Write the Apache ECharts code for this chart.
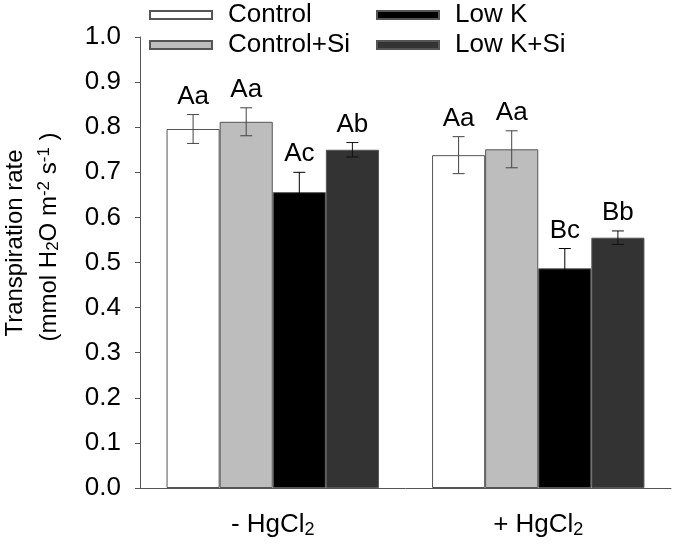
<!DOCTYPE html>
<html>
<head>
<meta charset="utf-8">
<script src="https://cdn.jsdelivr.net/npm/echarts@6/dist/echarts.min.js"></script>
<style>
html,body{margin:0;padding:0;background:#fff;}
#chart{width:675px;height:544px;}
</style>
</head>
<body>
<div id="chart"></div>
<script>
// ---- data ----
const categories = ['- HgCl', '+ HgCl'];
const seriesNames = ['Control', 'Control+Si', 'Low K', 'Low K+Si'];
const controlVals = [0.796, 0.738];
const controlSiVals = [0.812, 0.751];
const lowKVals = [0.656, 0.487];
const lowKSiVals = [0.750, 0.555];
const controlErr = [0.032, 0.041];
const controlSiErr = [0.031, 0.041];
const lowKErr = [0.044, 0.044];
const lowKSiErr = [0.016, 0.015];
const controlLetters = ['Aa', 'Aa'];
const controlSiLetters = ['Aa', 'Aa'];
const lowKLetters = ['Ac', 'Bc'];
const lowKSiLetters = ['Ab', 'Bb'];
const yTicks = [0, 0.1, 0.2, 0.3, 0.4, 0.5, 0.6, 0.7, 0.8, 0.9, 1.0];

const values = [controlVals, controlSiVals, lowKVals, lowKSiVals];
const errors = [controlErr, controlSiErr, lowKErr, lowKSiErr];
const letters = [controlLetters, controlSiLetters, lowKLetters, lowKSiLetters];

const FONT = '"Liberation Sans", Arial, Helvetica, sans-serif';
const fills = ['#ffffff', '#bdbdbd', '#000000', '#333333'];
const errColors = ['#444444', '#444444', '#000000', '#111111'];
const N = seriesNames.length;
const CAT_GAP = 0.2;

const chart = echarts.init(document.getElementById('chart'));

function makeErrRender(si) {
  return function (params, api) {
    const ci = api.value(0);
    const v = api.value(1);
    const e = api.value(2);
    const band = api.size([1, 0])[0];
    const barW = band * (1 - CAT_GAP) / N;
    const cx = api.coord([ci, 0])[0] + (si - (N - 1) / 2) * barW;
    const yTop = api.coord([ci, v + e])[1];
    const yBot = api.coord([ci, v - e])[1];
    const cap = 6;
    const st = { stroke: errColors[si], lineWidth: 1 };
    return {
      type: 'group',
      children: [
        { type: 'line', shape: { x1: cx, y1: yTop, x2: cx, y2: yBot }, style: st },
        { type: 'line', shape: { x1: cx - cap, y1: yTop, x2: cx + cap, y2: yTop }, style: st },
        { type: 'line', shape: { x1: cx - cap, y1: yBot, x2: cx + cap, y2: yBot }, style: st },
        { type: 'text', x: cx, y: yTop - 5, style: {
            text: letters[si][params.dataIndex], fill: '#000',
            font: '26px ' + FONT, align: 'center', verticalAlign: 'bottom' } }
      ]
    };
  };
}

const series = [];
for (let s = 0; s < N; s++) {
  series.push({
    name: seriesNames[s],
    type: 'bar',
    data: values[s],
    barGap: '0%',
    barCategoryGap: (CAT_GAP * 100) + '%',
    itemStyle: { color: fills[s], borderColor: '#555555', borderWidth: 1 },
    emphasis: { disabled: true },
    z: 2
  });
}
for (let s = 0; s < N; s++) {
  series.push({
    type: 'custom',
    name: seriesNames[s] + ' err',
    renderItem: makeErrRender(s),
    data: values[s].map((v, i) => [i, v, errors[s][i]]),
    encode: { x: 0, y: 1 },
    z: 5,
    silent: true
  });
}

const legendCommon = {
  orient: 'vertical',
  icon: 'rect',
  itemWidth: 62,
  itemHeight: 8,
  itemGap: 4,
  padding: 0,
  selectedMode: false,
  textStyle: { fontFamily: FONT, fontSize: 26, color: '#000', lineHeight: 26, padding: [0, 0, 0, 11] }
};

const option = {
  animation: false,
  backgroundColor: '#ffffff',
  textStyle: { fontFamily: FONT },
  legend: [
    Object.assign({ left: 149, top: 2, data: [seriesNames[0], seriesNames[1]] }, legendCommon),
    Object.assign({ left: 376, top: 2, data: [seriesNames[2], seriesNames[3]] }, legendCommon)
  ],
  grid: { left: 140, right: 4, top: 37, bottom: 56, containLabel: false },
  xAxis: {
    type: 'category',
    data: categories,
    axisLine: { lineStyle: { color: '#555555', width: 1 } },
    axisTick: { alignWithLabel: true, length: 5, lineStyle: { color: '#555555' } },
    axisLabel: {
      interval: 0,
      hideOverlap: false,
      margin: 23,
      color: '#000',
      fontSize: 26,
      fontFamily: FONT,
      formatter: function (v) { return '{m|' + v + '}{sub|2}'; },
      rich: {
        m: { fontSize: 26, fontFamily: FONT, color: '#000', lineHeight: 28 },
        sub: { fontSize: 18, fontFamily: FONT, color: '#000', lineHeight: 10, verticalAlign: 'bottom' }
      }
    },
    splitLine: { show: false }
  },
  yAxis: {
    type: 'value',
    min: yTicks[0],
    max: yTicks[yTicks.length - 1],
    interval: 0.1,
    axisLine: { show: true, lineStyle: { color: '#555555', width: 1 } },
    axisTick: { show: true, length: 5, lineStyle: { color: '#555555' } },
    axisLabel: {
      margin: 19, color: '#000', fontSize: 26, fontFamily: FONT,
      formatter: function (v) { return v.toFixed(1); }
    },
    splitLine: { show: false }
  },
  graphic: [
    {
      type: 'text', x: 15, y: 243, rotation: Math.PI / 2,
      style: { text: 'Transpiration rate', font: '24px ' + FONT, fill: '#000', align: 'center', verticalAlign: 'middle' }
    },
    {
      type: 'text', x: 49, y: 237, rotation: Math.PI / 2,
      style: {
        text: '(mmol H{sub|2}O m{sup|-2} s{sup|-1} )',
        font: '24px ' + FONT, fill: '#000', align: 'center', verticalAlign: 'middle',
        lineHeight: 26,
        rich: {
          sub: { fontSize: 17, fontFamily: FONT, lineHeight: 8, verticalAlign: 'bottom', fill: '#000' },
          sup: { fontSize: 17, fontFamily: FONT, lineHeight: 12, verticalAlign: 'top', fill: '#000' }
        }
      }
    }
  ],
  series: series
};

chart.setOption(option);
</script>
</body>
</html>
